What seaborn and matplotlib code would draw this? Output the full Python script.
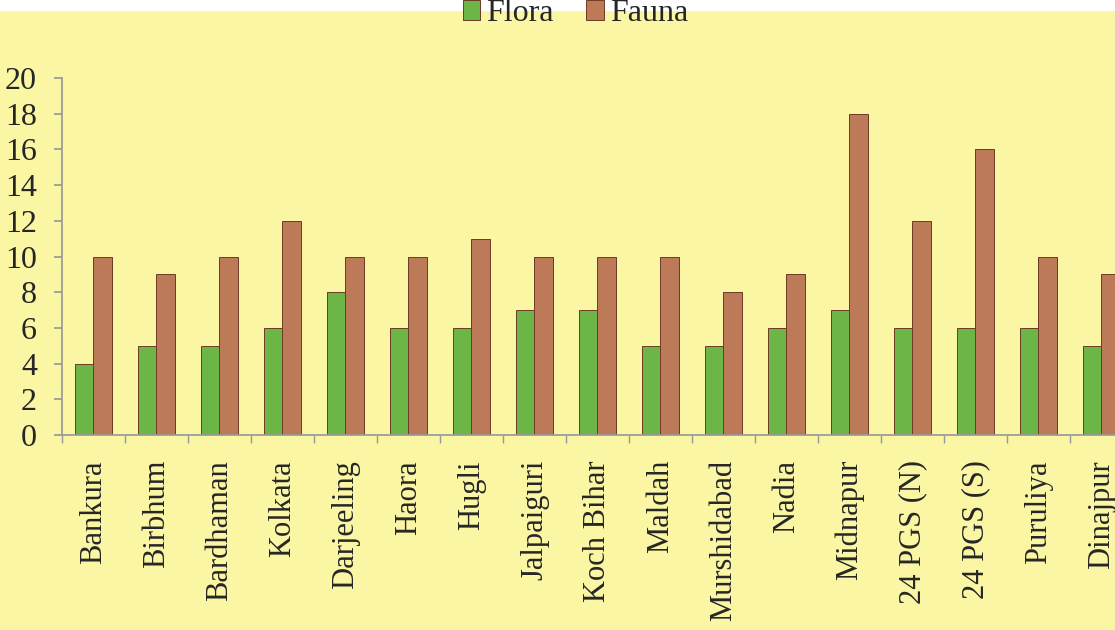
import pandas as pd
import seaborn as sns
import matplotlib.pyplot as plt
from matplotlib.patches import Rectangle

# Data
districts = ['Bankura', 'Birbhum', 'Bardhaman', 'Kolkata', 'Darjeeling', 'Haora', 'Hugli',
             'Jalpaiguri', 'Koch Bihar', 'Maldah', 'Murshidabad', 'Nadia', 'Midnapur',
             '24 PGS (N)', '24 PGS (S)', 'Puruliya', 'Dinajpur']
flora = [4, 5, 5, 6, 8, 6, 6, 7, 7, 5, 5, 6, 7, 6, 6, 6, 5]
fauna = [10, 9, 10, 12, 10, 10, 11, 10, 10, 10, 8, 9, 18, 12, 16, 10, 9]
y_ticks = [0, 2, 4, 6, 8, 10, 12, 14, 16, 18, 20]

df = pd.DataFrame({'district': districts * 2,
                   'count': flora + fauna,
                   'group': ['Flora'] * len(flora) + ['Fauna'] * len(fauna)})

bg = '#faf6a4'
sns.set_theme(style='ticks')
plt.rcParams['font.family'] = ['Liberation Serif', 'DejaVu Serif']

fig = plt.figure(figsize=(11.15, 6.3), dpi=100, facecolor=bg)
fig.add_artist(Rectangle((0, 0.982), 1, 0.018, transform=fig.transFigure,
                         facecolor='white', edgecolor='none', zorder=0))
ax = fig.add_axes([0.0556, 0.3095, 0.9605, 0.5667])
ax.set_facecolor(bg)

sns.barplot(data=df, x='district', y='count', hue='group', ax=ax, width=0.6,
            palette=['#66c834', '#cd7448'], edgecolor='#6e3a22', linewidth=0.7)

ax.set_ylim(0, 20)
ax.set_xlim(-0.5, len(districts) - 0.5)
ax.set_yticks(y_ticks)
ax.set_yticklabels([str(v) for v in y_ticks], fontsize=23)
ax.set_xlabel('')
ax.set_ylabel('')

# ticks between categories on the x axis
ax.set_xticks(range(len(districts)))
ax.set_xticklabels(districts, rotation=90, fontsize=22)
ax.set_xticks([i - 0.5 for i in range(len(districts) + 1)], minor=True)
ax.tick_params(axis='x', which='major', length=0, pad=18)
ax.tick_params(axis='x', which='minor', length=6, color='#999999')
ax.tick_params(axis='y', length=6, color='#999999', pad=12)

for side in ['top', 'right']:
    ax.spines[side].set_visible(False)
for side in ['left', 'bottom']:
    ax.spines[side].set_color('#999999')

sns.move_legend(ax, 'center', bbox_to_anchor=(0.516, 0.978), bbox_transform=fig.transFigure,
                ncol=2, frameon=False, title=None, fontsize=23, handlelength=0.55,
                handleheight=0.55, columnspacing=1.0, handletextpad=0.2)

fig.savefig('out.png', dpi=100, facecolor=bg)
